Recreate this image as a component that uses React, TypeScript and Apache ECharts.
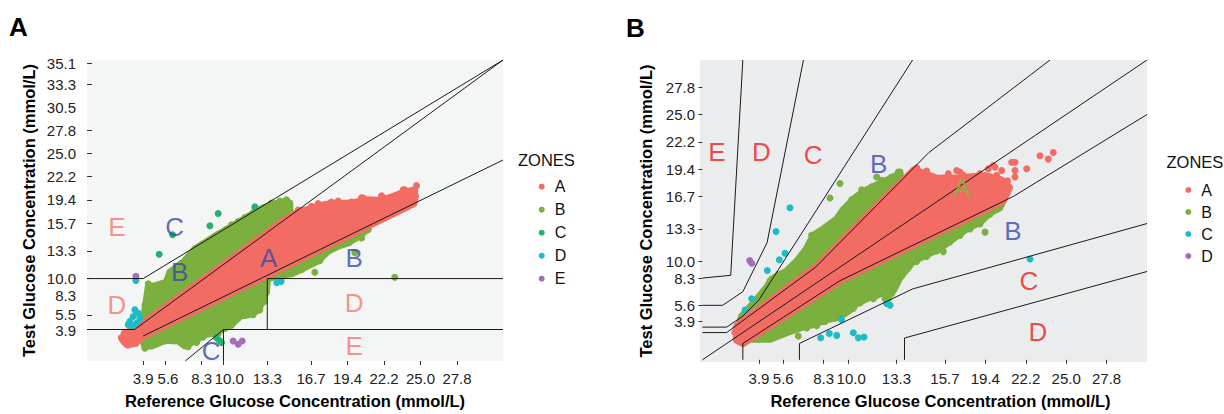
import React, { useEffect, useRef } from 'react';
import * as echarts from 'echarts';

// ---------- Panel A: Clarke error grid (values in mg/dL, labelled in mmol/L) ----------
const clarkeXTickMarks = [70, 100, 150, 180, 240, 300, 350, 400, 450, 500];
const clarkeXLabelAt = [70, 104, 150, 188, 240, 300, 350, 400, 450, 500];
const clarkeXLabels = ['3.9', '5.6', '8.3', '10.0', '13.3', '16.7', '19.4', '22.2', '25.0', '27.8'];
const clarkeYLowLabelAt = [68];
const clarkeYLowLabels = ['3.9'];
const clarkeYLabelAt = [103, 144, 180, 240, 300, 350, 400, 450, 500, 550, 600, 645];
const clarkeYLabels = ['5.5', '8.3', '10.0', '13.3', '15.7', '19.4', '22.2', '25.0', '27.8', '30.5', '33.3', '35.1'];
const clarkeYTickMarks = [70, 100, 180, 240, 300, 350, 400, 450, 500, 600, 645];
const clarkeZones = ['A', 'B', 'C', 'D', 'E'];

const clarkeLines = [
  [[-7, 70], [58.3, 70], [563, 652]],
  [[-7, 180], [70, 180], [563, 652]],
  [[70, 56], [563, 436]],
  [[180, 2], [180, 70], [563, 70]],
  [[240, 70], [240, 180], [563, 180]],
  [[127.7, 2], [180, 70]],
];

// dense cores of the point clouds (outline of point centres)
const clarkeRedCore = [[70, 56], [60, 40], [48, 37], [42, 47], [44, 62], [58.3, 70], [264, 307], [282, 324], [300, 331], [319, 340], [337, 342], [355, 343], [374, 350], [392, 349], [410, 356], [424, 364], [440, 371], [443, 358], [441, 342]];
const clarkeGreenUpperCore = [[60, 72], [71.4, 101.8], [76.9, 161.8], [88.3, 165.4], [102, 172.4], [106.5, 193.6], [127.1, 218.3], [140.8, 244], [152.2, 255], [165.9, 269], [181.9, 284], [191, 292], [202.4, 303], [213.8, 314], [227.5, 327], [245.8, 340], [264.1, 346], [270.9, 343.3], [271, 315]];
const clarkeGreenLowerCore = [[70, 56], [70, 45], [72.3, 32.6], [86, 36.8], [99.7, 46.7], [118, 45.3], [127.1, 34.7], [140.8, 45.3], [154.5, 59.4], [170.5, 63], [179.6, 72.2], [191, 80.6], [202.4, 98.3], [218.4, 103.2], [227.5, 112.4], [234.4, 133.6], [239, 154.8], [240.3, 179.5], [254.9, 186.5], [273.2, 190.1], [286.9, 200.7], [309.7, 218.3], [323.4, 239.5], [337.1, 250.1], [350.8, 257.2], [364.5, 271.3], [378.2, 287.5], [378.2, 293.6]];

const clarkeA = [[282.3, 327.8], [300.6, 336.3], [309.7, 341.9], [328, 345.4], [337.1, 347.6], [355.4, 345.4], [369.1, 354.6], [382.8, 345.4], [391.9, 334.8], [401, 338.4], [407.9, 350.4], [421.6, 363.1], [426.2, 354.6], [428.4, 371.6], [439.9, 370.2], [442.1, 359.6], [444.5, 380.7], [442.2, 370.1], [426.2, 371.5], [427.2, 356], [410.3, 348.9], [396.6, 358.8], [371.5, 353.9], [367.8, 345.4], [355.5, 336.2], [325.8, 341.9], [343.1, 336.2], [44.9, 41.8], [49.5, 36.8], [47.2, 59.4], [40, 52]];
const clarkeB = [
  [76.9, 168.9], [83.7, 154.8], [95.1, 165.4], [104.3, 183], [113.4, 197.1], [122.5, 211.3], [131.6, 221.9], [143.1, 241.6], [149.9, 250.1], [161.3, 264], [172.7, 275], [184.2, 286], [191, 296], [200.1, 303], [209.3, 312], [220.7, 322], [234.4, 333], [245.8, 343], [257.2, 347.6], [266.3, 350.4], [269.5, 340.5], [70.4, 94.7], [72.3, 123],
  [71, 42], [72.3, 29.8], [81.4, 34.7], [88.3, 41.8], [99.7, 45.3], [111.1, 48.8], [122.5, 41.8], [131.6, 32.6], [143.1, 41.8], [152.2, 53.8], [163.6, 60.8], [172.7, 60.8], [181.9, 72.1], [191, 79.2], [200.1, 94.7], [209.3, 100.4], [220.7, 101.8], [229.8, 112.4], [235.7, 130.1], [239, 151.2], [245.8, 186.5], [259.5, 186.5], [273.2, 192.2], [286.9, 199.3], [305.2, 193.6], [312, 218.3], [325.7, 241.6], [341.7, 253.6], [353.1, 258.6], [362.2, 267.8], [371.4, 278.3], [378.2, 285.4], [360, 236], [330.3, 246.5], [376, 285.4], [362.3, 271.2], [369.2, 267.6], [414.7, 183],
];
const clarkeC = [[172.7, 320.6], [161.4, 293.9], [91.9, 232.5], [110.3, 274.8], [223, 334.8], [170.5, 52.4], [177.4, 41.8], [174, 47]];
const clarkeD = [[60, 176], [58.6, 112.4], [63.2, 105.3], [56.3, 98.2], [51.8, 87.6], [49.5, 80.5], [65.5, 93.2], [61, 84.1], [54.1, 76.9], [253, 171], [259, 174]];
const clarkeE = [[60, 185], [193.3, 45.3], [200.1, 38.2], [205.6, 45.3]];

const clarkeZoneText = [[34, 292, 'E'], [113, 292, 'C'], [120, 194, 'B'], [242, 225, 'A'], [359, 225, 'B'], [34, 123, 'D'], [359, 127, 'D'], [359, 35, 'E'], [163, 24, 'C']];

// ---------- Panel B: Parkes error grid ----------
const parkesXTicks = [70, 100, 150, 180, 240, 300, 350, 400, 450, 500];
const parkesXLabelAt = [70, 100, 150, 184, 240, 300, 350, 400, 450, 500];
const parkesXLabels = ['3.9', '5.6', '8.3', '10.0', '13.3', '15.7', '19.4', '22.2', '25.0', '27.8'];
const parkesYTicks = [70, 100, 150, 180, 240, 300, 350, 400, 450, 500];
const parkesYLabels = ['3.9', '5.6', '8.3', '10.0', '13.3', '16.7', '19.4', '22.2', '25.0', '27.8'];
const parkesZones = ['A', 'B', 'C', 'D'];

const parkesLines = [
  [[0, 50], [30, 50], [140, 170], [280, 380], [430, 550]],
  [[50, 0], [50, 30], [170, 145], [385, 300], [550, 450]],
  [[0, 60], [30, 60], [50, 80], [70, 110], [260, 550]],
  [[120, 0], [120, 30], [260, 130], [550, 250]],
  [[0, 100], [25, 100], [50, 125], [80, 215], [125, 550]],
  [[250, 0], [250, 40], [550, 162]],
  [[0, 150], [35, 155], [50, 550]],
  [[0, 0], [550, 550]],
];

const parkesRedCore = [[42, 36], [50, 30], [170, 145], [372, 291], [380, 316], [370, 330], [350, 338], [320, 334], [290, 333], [262, 349], [140, 170], [46, 67], [42, 60]];
const parkesGreenUpperCore = [[46, 69], [48.5, 79.3], [63, 103.2], [79.5, 133], [85.7, 147.9], [104.2, 162.7], [116.6, 180.6], [129, 204.4], [137.2, 228.3], [149.6, 240.2], [166.1, 258], [174.3, 275.9], [190.8, 299.8], [203.2, 311.7], [219.7, 323.6], [232.1, 332.5], [244.4, 341.5], [246, 329], [140, 170]];
const parkesGreenLowerCore = [[50, 30], [52.7, 37.6], [67.1, 37.6], [83.6, 37.6], [104.2, 49.6], [120.7, 58.5], [137.2, 64.5], [153.7, 73.4], [170.2, 79.3], [182.6, 91.3], [190.8, 103.2], [207.3, 115.1], [219.7, 121.1], [236.2, 127], [244.4, 150.8], [260.9, 180.6], [277.4, 192.5], [293.9, 204.4], [310.4, 222.3], [326.9, 240.2], [343.4, 252.1], [355.8, 270], [368.1, 278.9], [368, 288], [170, 145]];

const parkesA = [[265, 352.2], [277.4, 346.2], [285.7, 335.5], [293.9, 329.5], [304.2, 341.5], [314.5, 347.4], [322.8, 338.5], [333.1, 329.5], [343.4, 341.5], [353.7, 350.4], [359.9, 356.3], [370.2, 347.4], [382.6, 362.3], [386.7, 347.4], [434.1, 380.2], [417.6, 374.3], [427.9, 368.2], [386.7, 362.3], [401.2, 350.4], [386.7, 335.5], [377.6, 328.4], [377.6, 314.6], [362, 353.4], [364, 338.6], [318.7, 344.5], [364, 293.9], [368.2, 299.8], [44, 40], [40, 50], [43, 63]];
const parkesB = [
  [50.6, 82.3], [58.9, 97.2], [69.2, 109.1], [77.4, 127], [83.6, 144.9], [93.9, 156.8], [106.3, 165.7], [116.6, 177.6], [124.8, 192.5], [131, 210.4], [135.1, 228.3], [143.4, 234.2], [153.7, 243.2], [164, 255.1], [172.3, 270], [180.5, 284.9], [188.8, 296.8], [199.1, 308.7], [209.4, 317.6], [221.7, 329.5], [234.1, 335.5], [244.4, 344.4], [157.8, 296.8], [170.2, 323.6], [184.6, 293.8], [215.6, 335.5], [197, 311.8], [242.3, 344.5], [238.2, 335.5], [223.8, 323.6],
  [54.7, 36.5], [69.2, 37.6], [84.4, 38.8], [96, 46.6], [108.3, 52.5], [118.6, 43.6], [129, 58.5], [141.3, 62.6], [151.6, 70.4], [164, 76.4], [176.4, 85.3], [186.7, 94.2], [194.9, 104.4], [205.3, 113.9], [215.6, 118.1], [225.9, 112.1], [234.1, 121.1], [240.3, 138.9], [246.5, 153.8], [254.7, 168.7], [265, 180.6], [277.4, 189.5], [289.8, 199.7], [298, 198.5], [306.3, 216.4], [318.7, 228.3], [331, 240.2], [343.4, 249.1], [349.6, 234.2], [355.8, 267], [364, 275.9], [370.2, 284.9], [335.1, 255.1], [351.7, 270], [314.6, 240.2], [67.2, 40.6], [85.7, 40.6], [211.4, 112.1], [230, 112.1],
];
const parkesC = [[108.3, 278.9], [91, 235.4], [102.2, 195.5], [95.1, 183.6], [80.3, 163.9], [60.9, 112.1], [52.7, 91.3], [172, 74], [146.3, 40.6], [157, 48.4], [166.1, 44.8], [186.7, 49.6], [192.9, 40.6], [199.9, 41.8], [227.9, 103.2], [232.1, 100.2], [405.3, 184.9]];
const parkesD = [[58.5, 182], [61, 177]];

const parkesZoneText = [[18, 382, 'E'], [73, 382, 'D'], [137, 376, 'C'], [218, 359, 'B'], [321, 315, 'A'], [384, 237, 'B'], [404, 145, 'C'], [415, 51, 'D']];

// ---------- styles ----------
const FONT = '"Liberation Sans", Arial, Helvetica, sans-serif';
const COL_A = '#F36C64';
const COL_B = '#7BAF3E';
const COL_C_CLARKE = '#22B46E';
const COL_CYAN = '#1BBCC6';
const COL_PURPLE = '#A66CC0';
const LBL_BLUE = '#3A49A8';
const LBL_SALMON = '#F47870';
const LBL_RED = '#F01C1C';
const LBL_GREEN = '#7CBB3A';

function fmt(ticks: number[], labels: string[]) {
  return (v: number) => {
    const i = ticks.findIndex((t) => Math.abs(t - v) < 1e-6);
    return i >= 0 ? labels[i] : '';
  };
}

function polySeries(points: number[][], color: string, idx: number, z: number) {
  return {
    type: 'custom',
    xAxisIndex: idx,
    yAxisIndex: idx,
    silent: true,
    clip: true,
    z,
    data: [[points[0][0], points[0][1]]],
    renderItem: (_p: any, api: any) => ({
      type: 'polygon',
      shape: { points: points.map((p) => api.coord(p)) },
      style: { fill: color, stroke: color, lineWidth: 7, lineJoin: 'round' },
    }),
  };
}

function pts(name: string, data: number[][], color: string, idx: number, z: number) {
  return {
    type: 'scatter',
    name,
    xAxisIndex: idx,
    yAxisIndex: idx,
    data,
    symbol: 'circle',
    symbolSize: 7,
    itemStyle: { color, opacity: 1, borderWidth: 0 },
    silent: true,
    z,
  };
}

function lines(list: number[][][], idx: number) {
  return list.map((l) => ({
    type: 'line',
    xAxisIndex: idx,
    yAxisIndex: idx,
    data: l,
    symbol: 'none',
    silent: true,
    clip: true,
    z: 6,
    lineStyle: { color: '#1a1a1a', width: 1 },
  }));
}

function zoneLabels(list: any[], colors: string[], idx: number) {
  return {
    type: 'scatter',
    xAxisIndex: idx,
    yAxisIndex: idx,
    silent: true,
    z: 7,
    symbolSize: 1,
    itemStyle: { color: 'rgba(0,0,0,0)' },
    data: list.map((d, i) => ({
      value: [d[0], d[1]],
      name: d[2],
      label: {
        show: true,
        position: 'inside',
        formatter: d[2],
        fontSize: 26,
        color: colors[i],
        fontFamily: FONT,
      },
    })),
  };
}

function axisCommon(labelAt: number[], labels: string[], tickMarks: number[] | null, tickLen: number, margin: number) {
  return {
    type: 'value',
    splitLine: { show: false },
    axisLine: { show: false },
    axisTick: tickMarks
      ? { show: true, customValues: tickMarks, length: tickLen, lineStyle: { color: '#333', width: 1 } }
      : { show: false },
    axisLabel: {
      customValues: labelAt,
      formatter: fmt(labelAt, labels),
      fontSize: 15,
      color: '#222',
      margin,
      fontFamily: FONT,
      showMinLabel: true,
      showMaxLabel: true,
      hideOverlap: false,
    },
    nameLocation: 'middle',
    nameTextStyle: { fontSize: 16.5, fontWeight: 'bold', color: '#000', fontFamily: FONT },
  };
}

export default function App() {
  const ref = useRef<HTMLDivElement>(null);
  useEffect(() => {
    document.body.style.margin = '0';
    if (!ref.current) return;
    const chart = echarts.init(ref.current, undefined, { renderer: 'svg' });
    const clarkeLabelColors = clarkeZoneText.map((d) => (d[2] === 'E' || d[2] === 'D' ? LBL_SALMON : LBL_BLUE));
    const parkesLabelColors = parkesZoneText.map((d) => (d[2] === 'B' ? LBL_BLUE : d[2] === 'A' ? LBL_GREEN : LBL_RED));
    const option: any = {
      animation: false,
      textStyle: { fontFamily: FONT },
      grid: [
        { left: 87, top: 60, width: 416, height: 307, show: true, backgroundColor: '#F4F6F5', borderWidth: 0 },
        { left: 700, top: 60, width: 447, height: 310, show: true, backgroundColor: '#EBECEE', borderWidth: 0 },
      ],
      xAxis: [
        { ...axisCommon(clarkeXLabelAt, clarkeXLabels, clarkeXTickMarks, 4, 10), gridIndex: 0, position: 'bottom', min: -7, max: 563, name: 'Reference Glucose Concentration (mmol/L)', nameGap: 31 },
        { ...axisCommon(parkesXLabelAt, parkesXLabels, parkesXTicks, 4, 9), gridIndex: 1, position: 'bottom', min: -3, max: 550, name: 'Reference Glucose Concentration (mmol/L)', nameGap: 30,
          nameTextStyle: { fontSize: 16.5, fontWeight: 'bold', color: '#000', fontFamily: FONT, padding: [0, 0, 0, 34] } },
      ],
      yAxis: [
        { ...axisCommon(clarkeYLabelAt, clarkeYLabels, clarkeYTickMarks, 5, 11), gridIndex: 0, position: 'left', min: 2, max: 652, name: 'Test Glucose Concentration (mmol/L)', nameGap: 50 },
        { ...axisCommon(parkesYTicks, parkesYLabels, parkesYTicks, 4, 5), gridIndex: 1, position: 'left', min: -4, max: 550, name: 'Test Glucose Concentration (mmol/L)', nameGap: 46 },
        { ...axisCommon(clarkeYLowLabelAt, clarkeYLowLabels, null, 5, 11), gridIndex: 0, position: 'left', offset: 0, min: 2, max: 652 },
      ],
      legend: [
        {
          orient: 'vertical', left: 538.7, top: 178.7, padding: 0, itemWidth: 6, itemHeight: 6, itemGap: 7, icon: 'circle',
          selectedMode: false, data: clarkeZones,
          textStyle: { fontSize: 16, lineHeight: 16, color: '#111', padding: [0, 0, 0, 5], fontFamily: FONT },
        },
        {
          orient: 'vertical', left: 1185.3, top: 182, padding: 0, itemWidth: 6, itemHeight: 6, itemGap: 6, icon: 'circle',
          selectedMode: false, data: parkesZones.map((z) => z + '2'),
          formatter: (n: string) => n.replace('2', ''),
          textStyle: { fontSize: 16, lineHeight: 16, color: '#111', padding: [0, 0, 0, 5], fontFamily: FONT },
        },
      ],
      graphic: [
        { type: 'text', left: 9, top: 14, style: { text: 'A', fontSize: 26, fontWeight: 'bold', fill: '#000', fontFamily: FONT } },
        { type: 'text', left: 626, top: 15, style: { text: 'B', fontSize: 26, fontWeight: 'bold', fill: '#000', fontFamily: FONT } },
        { type: 'text', left: 518, top: 151, style: { text: 'ZONES', fontSize: 16.5, fill: '#111', fontFamily: FONT } },
        { type: 'text', left: 1166.5, top: 153, style: { text: 'ZONES', fontSize: 16.5, fill: '#111', fontFamily: FONT } },
      ],
      series: [
        // panel A
        polySeries(clarkeGreenUpperCore, COL_B, 0, 1),
        polySeries(clarkeGreenLowerCore, COL_B, 0, 1),
        pts('B', clarkeB, COL_B, 0, 2),
        polySeries(clarkeRedCore, COL_A, 0, 3),
        pts('A', clarkeA, COL_A, 0, 4),
        pts('C', clarkeC, COL_C_CLARKE, 0, 5),
        pts('D', clarkeD, COL_CYAN, 0, 5),
        pts('E', clarkeE, COL_PURPLE, 0, 5),
        ...lines(clarkeLines, 0),
        zoneLabels(clarkeZoneText, clarkeLabelColors, 0),
        // panel B
        polySeries(parkesGreenUpperCore, COL_B, 1, 1),
        polySeries(parkesGreenLowerCore, COL_B, 1, 1),
        pts('B2', parkesB, COL_B, 1, 2),
        polySeries(parkesRedCore, COL_A, 1, 3),
        pts('A2', parkesA, COL_A, 1, 4),
        pts('C2', parkesC, COL_CYAN, 1, 5),
        pts('D2', parkesD, COL_PURPLE, 1, 5),
        ...lines(parkesLines, 1),
        zoneLabels(parkesZoneText, parkesLabelColors, 1),
      ],
    };
    chart.setOption(option);
    return () => chart.dispose();
  }, []);
  return <div ref={ref} style={{ width: 1224, height: 414 }} />;
}
